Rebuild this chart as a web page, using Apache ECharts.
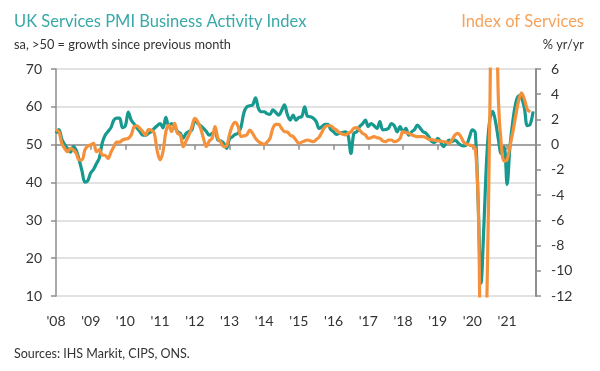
<!DOCTYPE html>
<html>
<head>
<meta charset="utf-8">
<script src="https://cdn.jsdelivr.net/npm/echarts@6/dist/echarts.min.js"></script>
<style>
  html, body { margin: 0; padding: 0; background: #ffffff; }
  #chart { width: 600px; height: 371px; }
</style>
</head>
<body>
<div id="chart"></div>
<script>
// Monthly categories: Jan 2008 .. Nov 2021
const startYear = 2008;
const monthCount = 167;
const months = [];
for (let k = 0; k < monthCount; k++) {
  const y = startYear + Math.floor(k / 12);
  const m = (k % 12) + 1;
  months.push(y + '-' + (m < 10 ? '0' + m : m));
}
const yearLabels = ["'08", "'09", "'10", "'11", "'12", "'13", "'14", "'15", "'16", "'17", "'18", "'19", "'20", "'21"];

// UK Services PMI Business Activity Index (sa, >50 = growth), Jan 2008 .. Oct 2021
const pmi = [
  53.0, 54.0, 51.5, 50.0, 49.0, 48.0, 49.5, 48.5, 46.0, 43.0, 40.1, 40.5,
  42.5, 43.5, 45.0, 46.5, 50.5, 52.5, 53.5, 54.5, 56.5, 57.0, 57.0, 54.5,
  55.0, 58.6, 56.5, 55.5, 54.4, 53.5, 52.5, 52.5, 53.0, 53.5, 54.3, 55.0,
  55.6, 54.4, 57.2, 55.0, 55.6, 54.8, 53.5, 53.0, 51.7, 53.0, 53.5, 53.9,
  56.5, 55.6, 55.0, 54.3, 53.5, 52.5, 53.0, 53.4, 51.2, 51.0, 50.4, 49.0,
  51.5, 52.1, 52.7, 53.0, 54.7, 58.5, 60.0, 60.3, 60.5, 62.4, 59.6, 58.7,
  58.7, 58.2, 58.0, 59.2, 58.5, 57.8, 59.0, 60.5, 58.0, 56.5, 57.8, 56.5,
  57.2, 57.4, 60.0, 57.5, 57.4, 57.0, 56.1, 54.3, 54.8, 55.4, 55.4, 54.0,
  53.4, 52.7, 53.0, 53.2, 53.4, 52.5, 47.7, 53.0, 53.4, 54.8, 55.5, 56.5,
  54.8, 55.6, 55.0, 54.3, 56.1, 53.9, 54.0, 54.3, 55.6, 55.0, 53.4, 54.8,
  53.4, 54.3, 52.5, 53.4, 54.0, 55.2, 54.3, 53.4, 53.0, 52.0, 50.8, 50.6,
  51.7, 50.8, 49.5, 50.5, 51.2, 50.8, 51.2, 50.5, 49.9, 49.7, 50.0, 52.0,
  53.9, 53.2, 34.5, 13.4, 29.0, 47.1, 56.5, 58.8, 56.1, 51.4, 47.6, 49.4,
  39.5, 49.5, 56.3, 61.0, 62.9, 62.4, 59.6, 55.0, 55.4, 58.8
];

// Index of Services, % yr/yr (right axis), Jan 2008 .. Sep 2021
const ios = [
  1.16, 1.03, 0.11, -0.3, -0.56, -0.29, -0.42, -0.69, -1.2, -1.2, -0.42, -0.1,
  -0.03, 0.1, -0.56, -0.42, -0.82, -0.85, -1.08, -0.6, -0.16, 0.2, 0.2, 0.37,
  0.45, 0.5, 0.77, 1.43, 1.5, 1.3, 1.03, 0.77, 1.2, 1.16, 0.9, -0.5,
  -1.2, -0.56, 1.03, 1.56, 1.03, 1.69, 0.9, 0.77, -0.16, 0.3, 0.77, 1.43,
  2.09, 1.82, 1.3, 0.5, -0.16, 0.3, 0.5, 1.43, 0.5, 0.2, -0.16, -0.1,
  0.8, 1.5, 1.77, 1.43, 0.64, 0.7, 0.77, 1.16, 0.9, 0.5, 0.25, 0.11,
  0.03, 0.2, 0.5, 1.3, 1.61, 1.61, 1.3, 1.03, 1.0, 0.75, 0.64, 0.37,
  0.11, 0.2, 0.3, 0.37, 0.3, 0.24, 0.4, 0.6, 1.0, 1.4, 1.5, 1.5,
  1.3, 1.16, 0.95, 0.85, 0.77, 0.9, 1.03, 1.3, 1.35, 1.16, 0.9, 0.77,
  0.5, 0.55, 0.64, 0.55, 0.5, 0.3, 0.24, 0.37, 0.37, 0.24, 0.3, 0.5,
  1.03, 0.95, 0.9, 0.77, 0.7, 0.64, 0.64, 0.64, 0.55, 0.42, 0.4, 0.35,
  0.3, 0.28, 0.24, 0.2, 0.11, 0.4, 0.77, 0.9, 0.64, 0.2, 0.05, -0.03,
  -0.1, -0.3, -4.5, -18, -20, -12.5, 2, 15, 14, 3.5, 0, -1.3,
  -1.2, -0.1, 1.0, 2.3, 3.5, 4.1, 3.6, 2.8, 2.6
];

const FONT = 'Lato';
const axisGray = '#8e8e8e';
const textDark = '#333333';

const chart = echarts.init(document.getElementById('chart'), null, { renderer: 'canvas' });
const yearTick = function (index) { return index % 12 === 0; };

chart.setOption({
  animation: false,
  backgroundColor: '#ffffff',
  textStyle: { fontFamily: FONT },
  grid: { left: 56, right: 64, top: 69, bottom: 75 },
  graphic: [
    { type: 'text', x: 14, y: 22, style: { text: 'UK Services PMI Business Activity Index', fill: '#38a9a7', fontSize: 16.5, fontFamily: FONT, align: 'left', verticalAlign: 'middle' } },
    { type: 'text', x: 14, y: 45, style: { text: 'sa, >50 = growth since previous month', fill: textDark, fontSize: 12.8, fontFamily: FONT, align: 'left', verticalAlign: 'middle' } },
    { type: 'text', x: 584, y: 22, style: { text: 'Index of Services', fill: '#f6a35d', fontSize: 16.5, fontFamily: FONT, align: 'right', verticalAlign: 'middle' } },
    { type: 'text', x: 584, y: 45, style: { text: '% yr/yr', fill: textDark, fontSize: 12.8, fontFamily: FONT, align: 'right', verticalAlign: 'middle' } },
    { type: 'text', x: 14, y: 354, style: { text: 'Sources: IHS Markit, CIPS, ONS.', fill: textDark, fontSize: 12.5, fontFamily: FONT, align: 'left', verticalAlign: 'middle' } }
  ],
  xAxis: {
    type: 'category',
    data: months,
    boundaryGap: false,
    axisLine: { lineStyle: { color: axisGray, width: 1.5 } },
    axisTick: { interval: yearTick, length: 5, lineStyle: { color: axisGray, width: 1.5 } },
    axisLabel: {
      interval: yearTick,
      formatter: function (v, i) { return yearLabels[Math.round(i / 12)]; },
      margin: 18, fontSize: 14, color: textDark, fontFamily: FONT
    },
    splitLine: { show: false }
  },
  yAxis: [
    {
      type: 'value', min: 10, max: 70, interval: 10, position: 'left',
      axisLine: { show: true, lineStyle: { color: axisGray, width: 1.5 } },
      axisTick: { show: true, length: 5, lineStyle: { color: axisGray, width: 1.5 } },
      axisLabel: { margin: 14, fontSize: 14, color: textDark, fontFamily: FONT },
      splitLine: { show: true, lineStyle: { color: '#d9d9d9', width: 1.5 } }
    },
    {
      type: 'value', min: -12, max: 6, interval: 2, position: 'right',
      axisLine: { show: true, lineStyle: { color: axisGray, width: 2 } },
      axisTick: { show: true, length: 5, lineStyle: { color: axisGray, width: 1.5 } },
      axisLabel: { margin: 15, fontSize: 14, color: textDark, fontFamily: FONT },
      splitLine: { show: false }
    }
  ],
  series: [
    {
      name: 'UK Services PMI', type: 'line', data: pmi, yAxisIndex: 0,
      smooth: 0.35, showSymbol: false, clip: true,
      lineStyle: { color: '#17998f', width: 3.2 }
    },
    {
      name: 'Index of Services', type: 'line', data: ios, yAxisIndex: 1,
      smooth: 0.35, showSymbol: false, clip: true,
      lineStyle: { color: '#f5913b', width: 3.2 }
    }
  ]
});
</script>
</body>
</html>
